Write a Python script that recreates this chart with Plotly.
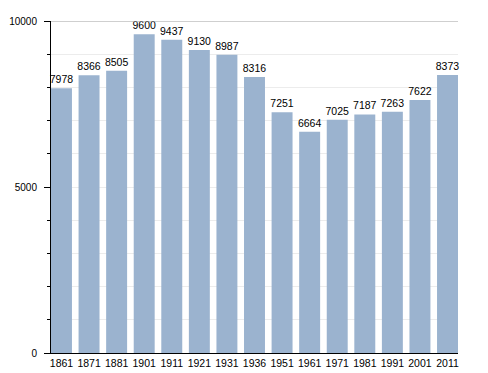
import plotly.graph_objects as go

years = ["1861", "1871", "1881", "1901", "1911", "1921", "1931", "1936",
         "1951", "1961", "1971", "1981", "1991", "2001", "2011"]
population = [7978, 8366, 8505, 9600, 9437, 9130, 8987, 8316,
              7251, 6664, 7025, 7187, 7263, 7622, 8373]
y_ticks = [0, 5000, 10000]

FONT = "Liberation Sans, Arial, sans-serif"

fig = go.Figure()
fig.add_trace(go.Bar(
    x=years, y=population,
    text=[str(v) for v in population],
    textposition="outside",
    constraintext="none",
    textfont=dict(family=FONT, size=10.5, color="#000"),
    cliponaxis=False,
    marker=dict(color="#9bb3cf", line=dict(width=0)),
))

fig.add_shape(type="line", xref="paper", yref="y", x0=0, x1=1, y0=10000, y1=10000,
              line=dict(color="#a0a0a0", width=1))

# page body has an 8px default margin, so the figure is sized/offset accordingly
fig.update_layout(
    width=480, height=365,
    margin=dict(l=43, r=30, t=13, b=20, autoexpand=False),
    paper_bgcolor="white", plot_bgcolor="white",
    bargap=0.24,
    showlegend=False,
    uniformtext=dict(minsize=10, mode="show"),
    font=dict(family=FONT, size=10, color="#000"),
    xaxis=dict(
        type="category", range=[-0.38, 14.38], automargin=False,
        showline=True, linecolor="#000", linewidth=1,
        ticks="", showgrid=False, tickfont=dict(size=10.5), ticklabelstandoff=0,
    ),
    yaxis=dict(
        range=[0, 10000], tickvals=y_ticks, ticktext=[str(v) for v in y_ticks],
        automargin=False,
        showline=True, linecolor="#000", linewidth=1,
        ticks="outside", ticklen=6, tickcolor="#000",
        showgrid=True, gridcolor="#ececec",
        minor=dict(dtick=1000, ticks="outside", ticklen=3, tickcolor="#000",
                   showgrid=True, gridcolor="#ececec"),
        tickfont=dict(size=10), ticklabelstandoff=5,
        zeroline=False,
    ),
)

fig.write_html("out.html")
